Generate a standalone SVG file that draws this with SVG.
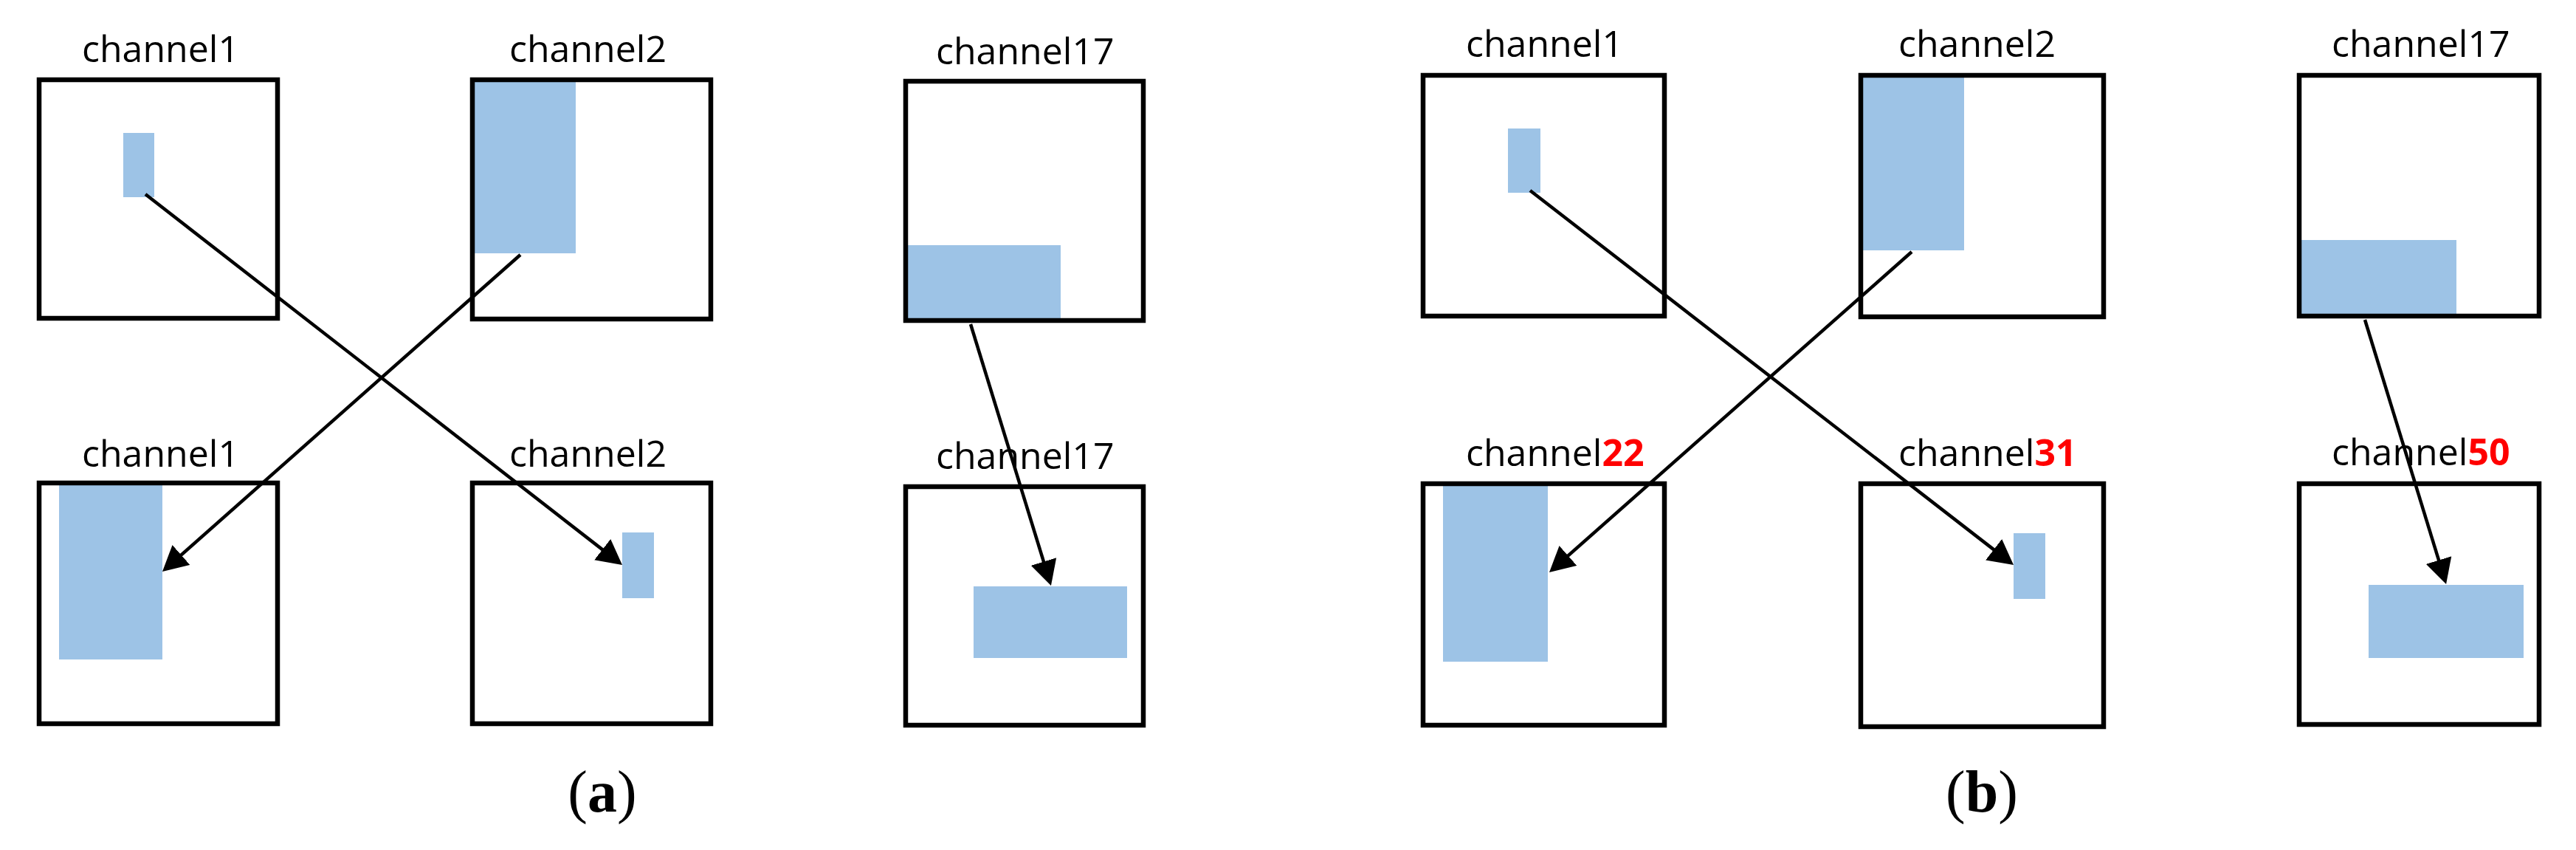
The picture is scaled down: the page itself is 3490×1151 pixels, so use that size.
<svg xmlns="http://www.w3.org/2000/svg" width="3490" height="1151" viewBox="0 0 3490 1151">
<style>
.box{fill:none;stroke:#000;stroke-width:6.5}
.blk{fill:#9DC3E6}
.lbl{font-family:"Open Sans","Liberation Sans",sans-serif;font-size:50px;fill:#000}
.red{fill:#FF0000;font-weight:bold}
.cap{font-family:"Liberation Serif",serif;font-size:80px;fill:#000;text-anchor:middle}
.bd{font-weight:bold}
.arr{stroke:#000;stroke-width:4.5;fill:none;marker-end:url(#ah)}
</style>
<defs>
<marker id="ah" markerUnits="userSpaceOnUse" viewBox="0 0 34 36" markerWidth="34" markerHeight="36" refX="26" refY="18" orient="auto">
<path d="M0,0 L34,18 L0,36 z" fill="#000"/>
</marker>
</defs>
<rect width="3490" height="1151" fill="#fff"/>
<g id="a-top-ch1">
<rect class="blk" x="167" y="180" width="42" height="87"/>
<rect class="box" x="53" y="108" width="323" height="323"/>
<text class="lbl" x="111" y="84">channel1</text>
</g>
<g id="a-top-ch2">
<rect class="blk" x="641" y="108" width="139" height="235"/>
<rect class="box" x="640" y="108" width="323" height="324"/>
<text class="lbl" x="690" y="84">channel2</text>
</g>
<g id="a-top-ch17">
<rect class="blk" x="1227" y="332" width="210" height="100"/>
<rect class="box" x="1227" y="110" width="322" height="324"/>
<text class="lbl" x="1268" y="87">channel17</text>
</g>
<g id="a-bot-ch1">
<rect class="blk" x="80" y="655" width="140" height="238"/>
<rect class="box" x="53" y="654" width="323" height="326"/>
<text class="lbl" x="111" y="632">channel1</text>
</g>
<g id="a-bot-ch2">
<rect class="blk" x="843" y="721" width="43" height="89"/>
<rect class="box" x="640" y="654" width="323" height="326"/>
<text class="lbl" x="690" y="632">channel2</text>
</g>
<g id="a-bot-ch17">
<rect class="blk" x="1319" y="794" width="208" height="97"/>
<rect class="box" x="1227" y="659" width="322" height="323"/>
<text class="lbl" x="1268" y="635">channel17</text>
</g>
<g id="b-top-ch1">
<rect class="blk" x="2043" y="174" width="44" height="87"/>
<rect class="box" x="1928" y="102" width="327" height="326"/>
<text class="lbl" x="1986" y="77">channel1</text>
</g>
<g id="b-top-ch2">
<rect class="blk" x="2520" y="101" width="141" height="238"/>
<rect class="box" x="2521" y="102" width="329" height="327"/>
<text class="lbl" x="2572" y="77">channel2</text>
</g>
<g id="b-top-ch17">
<rect class="blk" x="3117" y="325" width="211" height="101"/>
<rect class="box" x="3115" y="102" width="325" height="326"/>
<text class="lbl" x="3159" y="77">channel17</text>
</g>
<g id="b-bot-ch22">
<rect class="blk" x="1955" y="656" width="142" height="240"/>
<rect class="box" x="1928" y="655" width="327" height="327"/>
<text class="lbl" x="1986" y="631">channel<tspan class="red">22</tspan></text>
</g>
<g id="b-bot-ch31">
<rect class="blk" x="2728" y="722" width="43" height="89"/>
<rect class="box" x="2521" y="655" width="329" height="329"/>
<text class="lbl" x="2572" y="631">channel<tspan class="red">31</tspan></text>
</g>
<g id="b-bot-ch50">
<rect class="blk" x="3209" y="792" width="210" height="99"/>
<rect class="box" x="3115" y="655" width="325" height="326"/>
<text class="lbl" x="3159" y="630">channel<tspan class="red">50</tspan></text>
</g>
<g id="connectors">
<line class="arr" x1="705" y1="345" x2="226" y2="768.7"/>
<line class="arr" x1="197" y1="263" x2="836.7" y2="760.1"/>
<line class="arr" x1="1315" y1="439" x2="1421.6" y2="785.4"/>
<line class="arr" x1="2073" y1="258" x2="2721.7" y2="760.1"/>
<line class="arr" x1="2590" y1="341" x2="2105" y2="769.7"/>
<line class="arr" x1="3204" y1="433" x2="3311.7" y2="783.4"/>
</g>
<g id="captions">
<text class="cap" x="816" y="1099">(<tspan class="bd">a</tspan>)</text>
<text class="cap" x="2685" y="1099">(<tspan class="bd">b</tspan>)</text>
</g>
</svg>
